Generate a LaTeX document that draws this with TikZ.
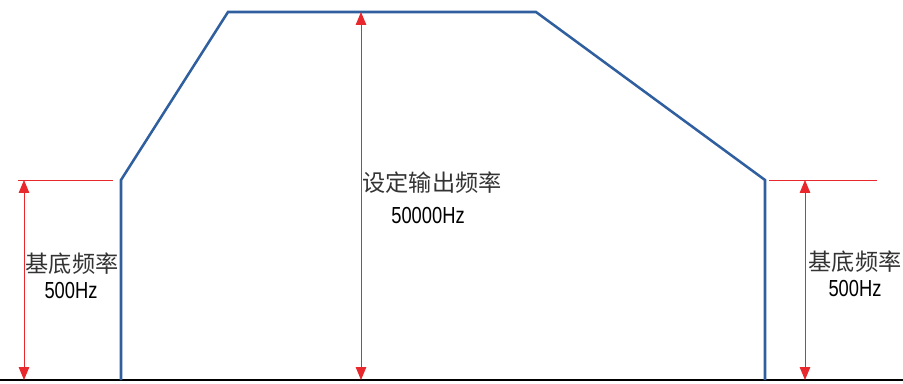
\documentclass[tikz,border=0pt]{standalone}
\usepackage{fontspec}
\setmainfont{Liberation Sans}
\newfontfamily\cjk{Noto Sans CJK SC}
\usetikzlibrary{arrows.meta}
\definecolor{curveblue}{HTML}{2F5F9F}
\definecolor{markred}{HTML}{E8282C}
\definecolor{textgray}{HTML}{333333}
\newcommand{\narrowval}[1]{\scalebox{0.79}[1]{#1}}

\begin{document}
\begin{tikzpicture}[
    x=0.025cm, y=-0.025cm,
    curve/.style={draw=curveblue, line width=1.8pt, line join=miter},
    guide/.style={draw=markred, line width=0.6pt},
    dim/.style={{Triangle[length=3.2mm,width=2.6mm]}-{Triangle[length=3.2mm,width=2.6mm]}, draw=markred, line width=0.7pt},
    cjktext/.style={inner sep=0pt, text=textgray, font=\cjk\fontsize{16.5}{20}\selectfont},
    valtext/.style={inner sep=0pt, font=\fontsize{16.5}{20}\selectfont}
]
\useasboundingbox (0,0) rectangle (903,383);

% corners of the frequency curve
\coordinate (startlow) at (121,380);
\coordinate (startbase) at (121,180);
\coordinate (risetop) at (228,12);
\coordinate (falltop) at (536,12);
\coordinate (endbase) at (765,180);
\coordinate (endlow) at (765,380);

% axis and curve
\coordinate (axisL) at (0,380);
\coordinate (axisR) at (903,380);
\draw[line width=1.4pt] (axisL) -- (axisR);
\draw[curve] (startlow) -- (startbase) -- (risetop) -- (falltop) -- (endbase) -- (endlow);

% guide lines
\coordinate (guideLa) at (18,180);
\coordinate (guideLb) at (113,180);
\coordinate (guideRa) at (769,180);
\coordinate (guideRb) at (877,180);
\draw[guide] (guideLa) -- (guideLb);
\draw[guide] (guideRa) -- (guideRb);

% dimension arrows
\coordinate (dimLtop) at (24,180);
\coordinate (dimLbot) at (24,380);
\coordinate (dimMtop) at (361,12);
\coordinate (dimMbot) at (361,380);
\coordinate (dimRtop) at (805,180);
\coordinate (dimRbot) at (805,380);
\draw[dim] (dimLtop) -- (dimLbot);
\draw[dim] (dimMtop) -- (dimMbot);
\draw[dim] (dimRtop) -- (dimRbot);

% labels
\node[cjktext] (baseLname) at (72,264) {基底频率};
\node[valtext] (baseLval) at (71,291) {\narrowval{500Hz}};
\node[cjktext] (baseRname) at (855,262) {基底频率};
\node[valtext] (baseRval) at (855,289) {\narrowval{500Hz}};
\node[cjktext] (setname) at (432,183) {设定输出频率};
\node[valtext] (setval) at (428,216) {\narrowval{50000Hz}};

\end{tikzpicture}
\end{document}
